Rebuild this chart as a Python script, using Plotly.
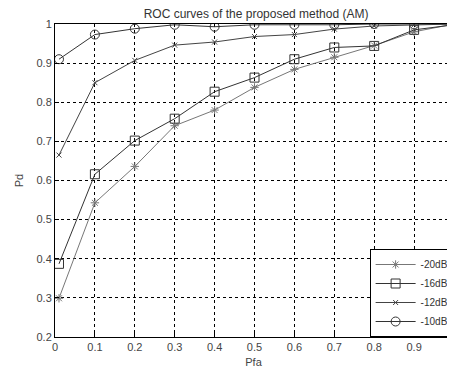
import plotly.graph_objects as go

pfa = [0.01, 0.1, 0.2, 0.3, 0.4, 0.5, 0.6, 0.7, 0.8, 0.9, 1.0]
pd_m20 = [0.299, 0.543, 0.636, 0.740, 0.780, 0.838, 0.884, 0.915, 0.945, 0.980, 1.0]
pd_m16 = [0.387, 0.616, 0.702, 0.758, 0.827, 0.863, 0.910, 0.940, 0.944, 0.985, 0.998]
pd_m12 = [0.665, 0.850, 0.907, 0.946, 0.954, 0.968, 0.973, 0.987, 0.995, 0.998, 1.0]
pd_m10 = [0.910, 0.973, 0.988, 0.998, 0.993, 0.998, 0.998, 0.998, 1.0, 0.999, 1.0]
labels = ["-20dB", "-16dB", "-12dB", "-10dB"]

xticks = [0, 0.1, 0.2, 0.3, 0.4, 0.5, 0.6, 0.7, 0.8, 0.9]
yticks = [0.2, 0.3, 0.4, 0.5, 0.6, 0.7, 0.8, 0.9, 1.0]
ytext = ["0.2", "0.3", "0.4", "0.5", "0.6", "0.7", "0.8", "0.9", "1"]

fig = go.Figure()
styles = [
    (pd_m20, "#777777", "solid", "asterisk-open", 7),
    (pd_m16, "#333333", "solid", "square-open", 9),
    (pd_m12, "#444444", "solid", "x-thin-open", 5),
    (pd_m10, "#333333", "solid", "circle-open", 9),
]
for (ys, col, dash, sym, sz), lab in zip(styles, labels):
    fig.add_trace(go.Scatter(
        x=pfa, y=ys, name=lab, mode="lines+markers",
        line=dict(color=col, width=1, dash=dash),
        marker=dict(symbol=sym, size=sz, color=col, line=dict(color=col, width=1)),
    ))

fig.update_layout(
    width=447, height=365,
    margin=dict(l=47, r=0, t=16, b=36),
    paper_bgcolor="white", plot_bgcolor="white",
    font=dict(family="Liberation Sans, Arial, sans-serif", size=11, color="#444444"),
    title=dict(text="ROC curves of the proposed method (AM)", x=0.555, xanchor="center",
               y=1.0, yanchor="top", pad=dict(t=2), font=dict(size=12, color="#333333")),
    showlegend=True,
    legend=dict(x=0.7925, xanchor="left", y=0.0, yanchor="bottom",
                bordercolor="black", borderwidth=1, bgcolor="white",
                font=dict(size=10, color="#333333"), tracegroupgap=0,
                itemwidth=40),
)
fig.update_xaxes(
    range=[0, 0.995], tickvals=xticks, ticktext=[str(v) if v else "0" for v in xticks],
    showgrid=True, gridcolor="black", griddash="dot", gridwidth=1,
    showline=True, linecolor="black", linewidth=1, mirror=True,
    ticks="inside", ticklen=4, tickcolor="black", zeroline=False,
    title=dict(text="Pfa", standoff=6, font=dict(size=11)),
)
fig.update_yaxes(
    range=[0.2, 1.0], tickvals=yticks, ticktext=ytext,
    showgrid=True, gridcolor="black", griddash="dot", gridwidth=1,
    showline=True, linecolor="black", linewidth=1,
    ticks="inside", ticklen=4, tickcolor="black", zeroline=False,
    title=dict(text="Pd", standoff=10, font=dict(size=11)),
)
fig.write_html("out.html")
